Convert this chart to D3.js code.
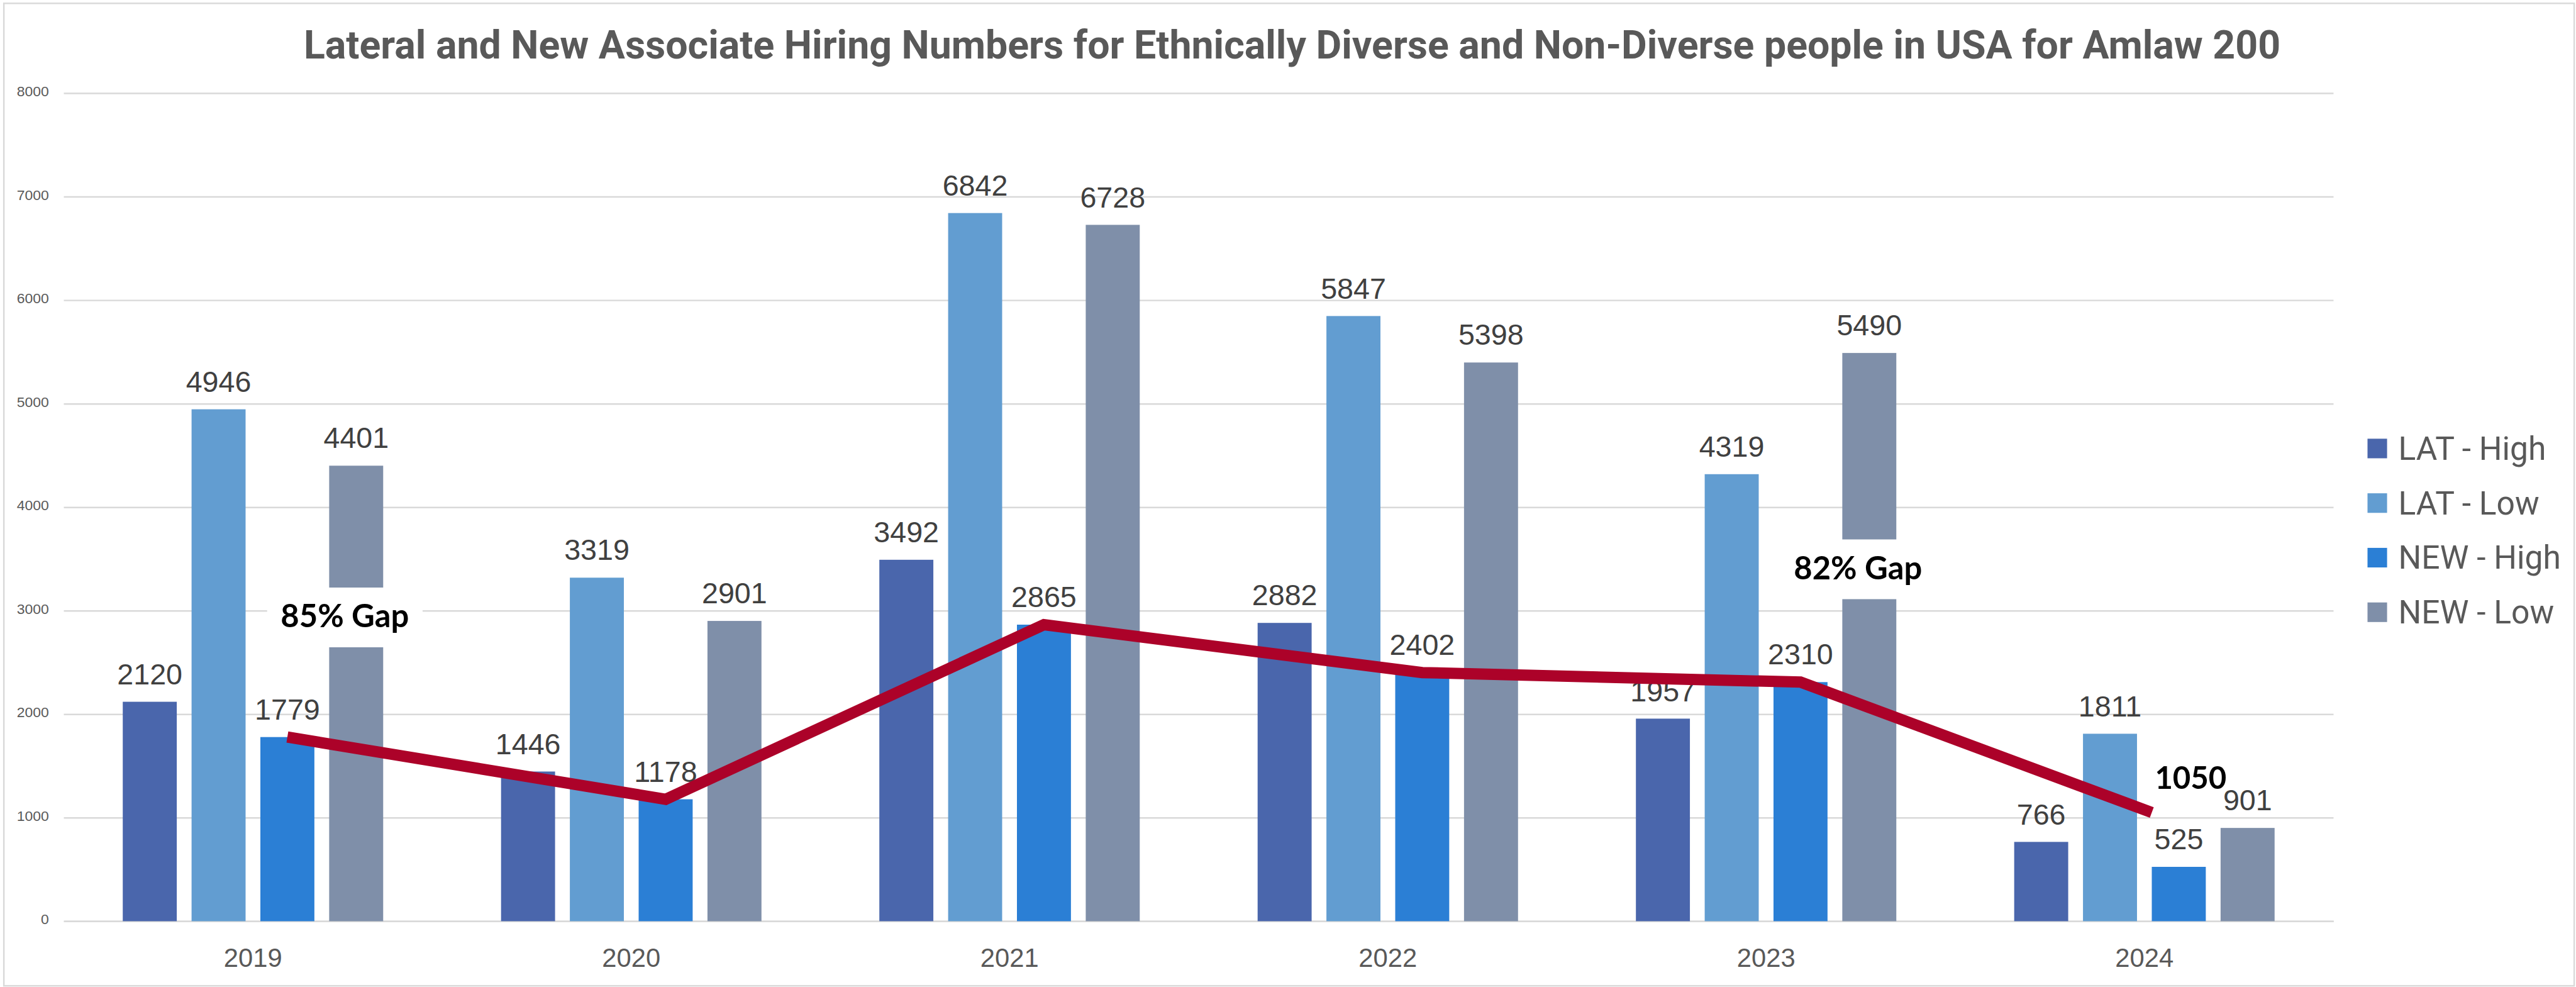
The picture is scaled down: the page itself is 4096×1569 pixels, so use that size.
<!DOCTYPE html>
<html>
<head>
<meta charset="utf-8">
<script src="https://cdn.jsdelivr.net/npm/d3@7"></script>
<style>
  html, body { margin: 0; padding: 0; background: #ffffff; }
  svg { display: block; }
</style>
</head>
<body>
<svg id="chart" width="4096" height="1569"></svg>
<script>
// ---- data ----
const years = ["2019", "2020", "2021", "2022", "2023", "2024"];
const seriesNames = ["LAT - High", "LAT - Low", "NEW - High", "NEW - Low"];
const latHigh = [2120, 1446, 3492, 2882, 1957, 766];
const latLow  = [4946, 3319, 6842, 5847, 4319, 1811];
const newHigh = [1779, 1178, 2865, 2402, 2310, 525];
const newLow  = [4401, 2901, 6728, 5398, 5490, 901];
// diverse new-associate trend, ending on the 2024 figure of 1050
const trendValues = [1779, 1178, 2865, 2402, 2310, 1050];
const yTickValues = [0, 1000, 2000, 3000, 4000, 5000, 6000, 7000, 8000];
// gap call-outs written across the NEW - Low bars
const gapYears = ["2019", "2023"];
const gapLabels = ["85% Gap", "82% Gap"];
const gapCentres = [2935, 3400];

const titleText = "Lateral and New Associate Hiring Numbers for Ethnically Diverse and Non-Diverse people in USA for Amlaw 200";
const colors = ["#4a66ac", "#629dd1", "#2b7fd5", "#7f8fa9"];
const lineColor = "#ac0229";

// ---- layout (drawn on a 5004 x 1917 canvas, scaled to the window) ----
const W = 5004, H = 1917;
const k = 4096 / W;
const plotLeft = 124, plotRight = 4533, plotTop = 181, plotBottom = 1789;

const svg = d3.select("#chart");
const root = svg.append("g").attr("transform", `scale(${k})`);

root.append("rect")
  .attr("x", 0).attr("y", 0).attr("width", W).attr("height", H)
  .attr("fill", "#ffffff");
root.append("rect")
  .attr("x", 7.5).attr("y", 6.5).attr("width", W - 11).attr("height", H - 9)
  .attr("fill", "none").attr("stroke", "#d9d9d9").attr("stroke-width", 3);

const valuesBySeries = [latHigh, latLow, newHigh, newLow];
const rows = years.map((yr, i) => ({
  year: yr,
  values: seriesNames.map((s, j) => ({ series: s, value: valuesBySeries[j][i] }))
}));

const y = d3.scaleLinear().domain([0, 8000]).range([plotBottom, plotTop]);
const x0 = d3.scaleBand().domain(years).range([plotLeft, plotRight])
  .paddingInner(0.3116).paddingOuter(0.1558);
const x1 = d3.scaleBand().domain(seriesNames).range([0, x0.bandwidth()])
  .paddingInner(0.215).paddingOuter(0);
const color = d3.scaleOrdinal().domain(seriesNames).range(colors);

// ---- y axis with gridlines ----
const yAxis = root.append("g")
  .attr("transform", `translate(${plotLeft},0)`)
  .call(d3.axisLeft(y).tickValues(yTickValues).tickFormat(d3.format("d"))
    .tickSize(-(plotRight - plotLeft)).tickPadding(29));
yAxis.select(".domain").remove();
yAxis.selectAll(".tick line").attr("stroke", "#d9d9d9").attr("stroke-width", 3);
yAxis.selectAll(".tick text")
  .attr("font-family", "'Liberation Sans', Arial, sans-serif")
  .attr("font-size", 28).attr("fill", "#595959").attr("dy", "0.2em");

// ---- x axis ----
const xAxis = root.append("g")
  .attr("transform", `translate(0,${plotBottom})`)
  .call(d3.axisBottom(x0).tickSize(0).tickPadding(53));
xAxis.select(".domain").attr("stroke", "#d9d9d9").attr("stroke-width", 3);
xAxis.selectAll(".tick text")
  .attr("font-family", "'Liberation Sans', Arial, sans-serif")
  .attr("font-size", 51).attr("fill", "#595959");

// ---- bars ----
const groups = root.append("g").selectAll("g")
  .data(rows).join("g")
  .attr("transform", d => `translate(${x0(d.year)},0)`);

groups.selectAll("rect")
  .data(d => d.values).join("rect")
  .attr("x", d => x1(d.series))
  .attr("y", d => y(d.value))
  .attr("width", x1.bandwidth())
  .attr("height", d => y(0) - y(d.value))
  .attr("fill", d => color(d.series));

groups.selectAll("text")
  .data(d => d.values).join("text")
  .attr("x", d => x1(d.series) + x1.bandwidth() / 2)
  .attr("y", d => y(d.value) - 34)
  .attr("text-anchor", "middle")
  .attr("font-family", "'Liberation Sans', Arial, sans-serif")
  .attr("font-size", 57)
  .attr("fill", "#404040")
  .text(d => d.value);

// ---- gap call-outs ----
const gapG = root.append("g");
gapYears.forEach((yr, i) => {
  const cx = x0(yr) + x1("NEW - Low") + x1.bandwidth() / 2 - 22;
  const cy = y(gapCentres[i]);
  gapG.append("rect")
    .attr("x", cx - 151).attr("y", cy - 58)
    .attr("width", 302).attr("height", 116)
    .attr("fill", "#ffffff");
  gapG.append("text")
    .attr("x", cx).attr("y", cy + 19)
    .attr("text-anchor", "middle")
    .attr("font-family", "Lato, 'Open Sans', sans-serif")
    .attr("font-weight", 700)
    .attr("font-size", 62)
    .attr("fill", "#000000")
    .text(gapLabels[i]);
});

// ---- trend line across the NEW - High bars ----
const last = years.length - 1;
const trendPts = years.map((yr, i) => [
  x0(yr) + x1("NEW - High") + (i === last ? 0 : x1.bandwidth() / 2),
  y(trendValues[i])
]);
root.append("path")
  .attr("d", d3.line()(trendPts))
  .attr("fill", "none")
  .attr("stroke", lineColor)
  .attr("stroke-width", 22)
  .attr("stroke-linejoin", "miter")
  .attr("stroke-linecap", "butt");

// end value, set just above and to the right of the line's end
const endPt = trendPts[last];
root.append("text")
  .attr("x", endPt[0] + 6)
  .attr("y", endPt[1] - 46)
  .attr("font-family", "Lato, 'Open Sans', sans-serif")
  .attr("font-weight", 700)
  .attr("font-size", 60)
  .attr("fill", "#000000")
  .text(trendValues[last]);

// ---- title ----
const title = root.append("text")
  .attr("x", 2510).attr("y", 114)
  .attr("text-anchor", "middle")
  .attr("font-family", "Roboto, 'Noto Sans', sans-serif")
  .attr("font-weight", 700)
  .attr("font-size", 78)
  .attr("fill", "#595959")
  .text(titleText);
const titleWidth = 3840;
if (title.node().getComputedTextLength() > titleWidth) {
  title.attr("textLength", titleWidth).attr("lengthAdjust", "spacingAndGlyphs");
}

// ---- legend ----
const legend = root.append("g").attr("transform", "translate(4599,0)");
seriesNames.forEach((s, i) => {
  const base = 893 + i * 106;
  legend.append("rect")
    .attr("x", 0).attr("y", base - 41)
    .attr("width", 38).attr("height", 38)
    .attr("fill", color(s));
  legend.append("text")
    .attr("x", 60).attr("y", base)
    .attr("font-family", "Roboto, 'Noto Sans', sans-serif")
    .attr("font-size", 63)
    .attr("fill", "#595959")
    .text(s);
});
</script>
</body>
</html>
